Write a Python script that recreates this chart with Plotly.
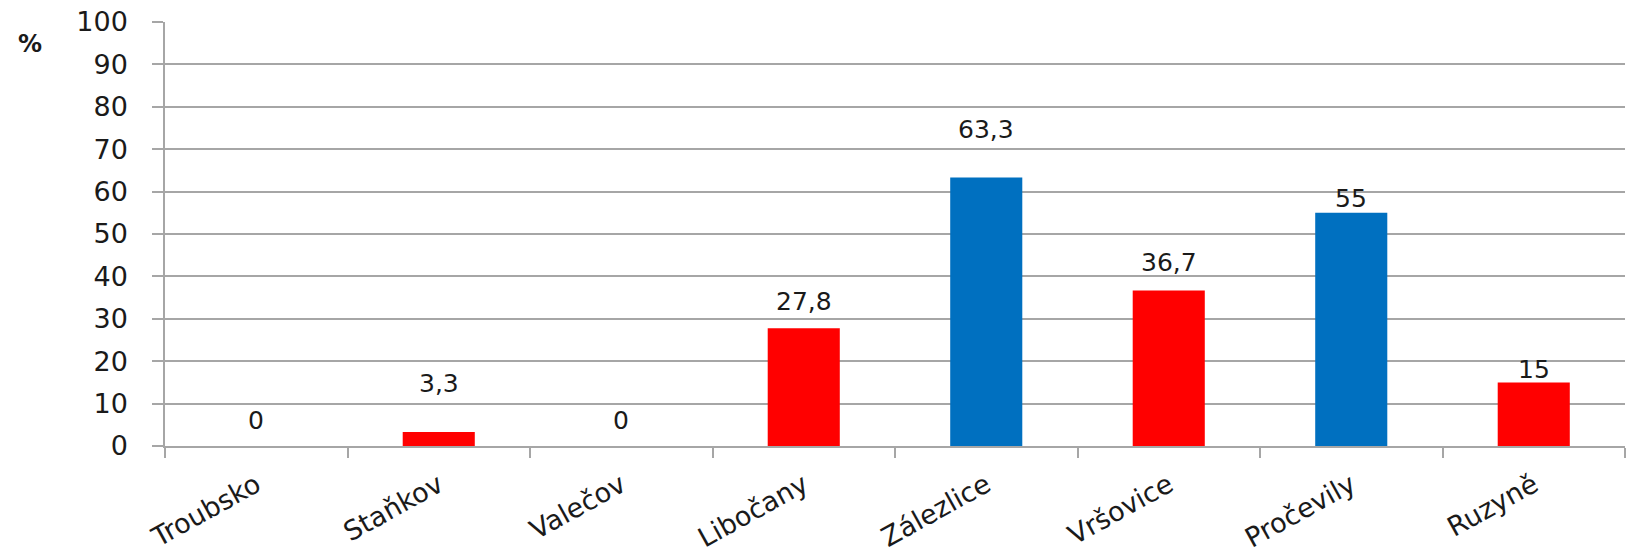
import plotly.graph_objects as go

# Village names and the share (%) for each
villages = ["Troubsko", "Staňkov", "Valečov", "Libočany", "Zálezlice",
            "Vršovice", "Pročevily", "Ruzyně"]
shares = [0, 3.3, 0, 27.8, 63.3, 36.7, 55, 15]
bar_colors = ["#FF0000", "#FF0000", "#FF0000", "#FF0000", "#0070C0",
              "#FF0000", "#0070C0", "#FF0000"]
# vertical lift of each value label above its bar top, in pixels
label_lift = [26, 49, 26, 27, 48, 28, 14, 13]

FONT = "DejaVu Sans"
TEXT = "#1a1a1a"
GRID = "#a6a6a6"

fig = go.Figure(
    go.Bar(
        x=villages,
        y=shares,
        marker=dict(color=bar_colors, line=dict(width=0)),
        hoverinfo="x+y",
    )
)

for name, val, lift in zip(villages, shares, label_lift):
    fig.add_annotation(
        x=name, y=val, yshift=lift,
        text=f"{val:g}".replace(".", ","),
        showarrow=False, yanchor="middle", xanchor="center",
        font=dict(family=FONT, size=25, color=TEXT),
    )

fig.add_annotation(
    xref="paper", yref="paper", x=-0.0925, y=0.948,
    xanchor="center", yanchor="middle",
    text="<b>%</b>", showarrow=False,
    font=dict(family=FONT, size=24, color=TEXT),
)

fig.update_layout(
    width=1639, height=553,
    margin=dict(l=165, r=14, t=22, b=107, autoexpand=False),
    paper_bgcolor="white", plot_bgcolor="white",
    bargap=0.605,
    showlegend=False,
    font=dict(family=FONT, color=TEXT),
)

fig.update_xaxes(
    type="category",
    tickangle=-29,
    tickfont=dict(family=FONT, size=27, color=TEXT),
    showline=True, linecolor=GRID, linewidth=1.5,
    ticks="outside", tickson="boundaries", ticklen=10,
    tickcolor=GRID, tickwidth=1.5,
    showgrid=False, automargin=False,
    ticklabelstandoff=11,
)
fig.update_yaxes(
    range=[0, 100], dtick=10,
    tickfont=dict(family=FONT, size=27, color=TEXT),
    showline=True, linecolor=GRID, linewidth=1.5,
    ticks="outside", ticklen=11, tickcolor=GRID, tickwidth=1.5,
    showgrid=True, gridcolor=GRID, gridwidth=1.5,
    zeroline=False, automargin=False,
    ticklabelstandoff=19,
)

fig.write_html("out.html")
